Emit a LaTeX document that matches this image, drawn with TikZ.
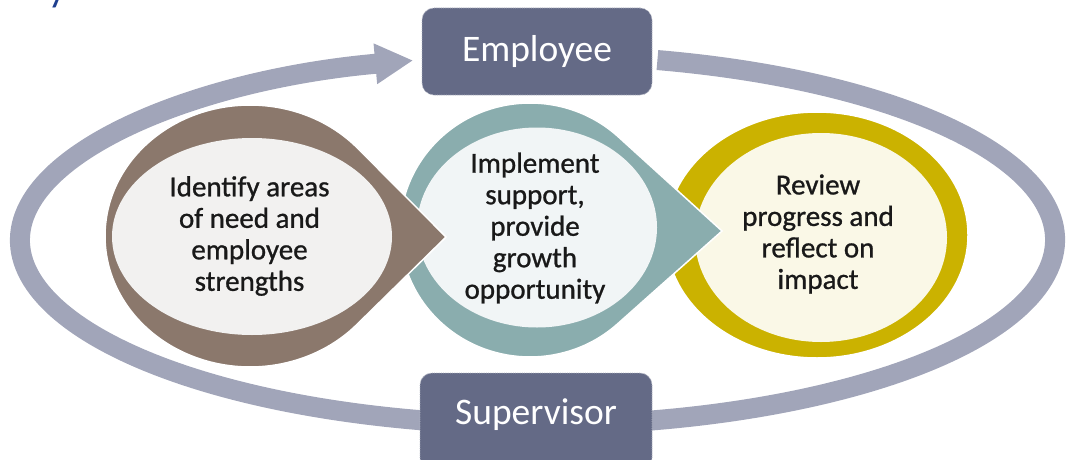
\documentclass[tikz,border=0pt]{standalone}
\usepackage{fontspec}
\setmainfont{Carlito}
\newfontfamily\stepfont{Carlito}[FakeBold=0.9]
\usetikzlibrary{arrows.meta, calc}
\definecolor{ringblue}{HTML}{A1A5B9}
\definecolor{boxblue}{HTML}{646A86}
\definecolor{mocha}{HTML}{8B786C}
\definecolor{mochalight}{HTML}{F2F1F0}
\definecolor{sage}{HTML}{8AADAE}
\definecolor{sagelight}{HTML}{F1F5F6}
\definecolor{mustard}{HTML}{CBB200}
\definecolor{mustardlight}{HTML}{FAF8E7}
\definecolor{titleblue}{HTML}{1F3F8F}

\begin{document}
\begin{tikzpicture}[x=1pt,y=1pt,
      cycle/.style={line width=20pt, draw=ringblue, -{Triangle[length=38pt,width=38pt]}},
      rolebox/.style={fill=boxblue, draw=boxblue!50!white, densely dotted, line width=0.8pt,
        rounded corners=12pt, minimum width=230pt},
      roletext/.style={text=white, font=\fontsize{37.5}{40}\selectfont},
      outline/.style={draw=white, line width=1.5pt},
      steptext/.style={align=center, text=black!90, font=\stepfont\fontsize{29}{31.5}\selectfont}]
      \useasboundingbox (0,0) rectangle (1070,459);
      \clip (0,0) rectangle (1070,459);
      % title, cut off at the top
      \node[anchor=base west, inner sep=0pt, text=titleblue, font=\fontsize{40}{44}\selectfont] (title) at (48,457) {y};
      % big ring arrow
      \draw[cycle] (537.5,219) ++(76.6:517.5 and 185)
        arc[start angle=76.6, end angle=-256.1, x radius=517.5, y radius=185];
      % review
      \fill[mustard, outline] (817,224) ellipse[x radius=151, y radius=123];
      \fill[mustardlight] (821,221.5) ellipse[x radius=126, y radius=104.5];
      % implement
      \fill[sage, outline] (722,228) -- ($(530,229)+(47.4:130 and 127)$)
        arc[start angle=47.4, end angle=312.6, x radius=130, y radius=127] -- cycle;
      \fill[sagelight] (537,231.5) ellipse[x radius=120, y radius=100];
      % identify
      \fill[mocha, outline] (446,222) -- ($(250,223)+(42.3:145 and 131)$)
        arc[start angle=42.3, end angle=317.7, x radius=145, y radius=131] -- cycle;
      \fill[mochalight] (252,222.5) ellipse[x radius=140, y radius=98.5];
      \node[steptext] (identify) at (249.5,223) {Identify areas\\of need and\\employee\\strengths};
      \node[steptext] (implement) at (535,231) {Implement\\support,\\provide\\growth\\opportunity};
      \node[steptext] (review) at (818,225) {Review\\progress and\\reflect on\\impact};
      % roles
      \node[rolebox, minimum height=87pt] (employee) at (537,407.5) {};
      \node[roletext] at (employee.center) {Employee};
      \node[rolebox, minimum height=97pt, minimum width=232pt] (supervisor) at (536,37.5) {};
      \node[roletext] at ([yshift=6.5pt]supervisor.center) {Supervisor};
\end{tikzpicture}
\end{document}
